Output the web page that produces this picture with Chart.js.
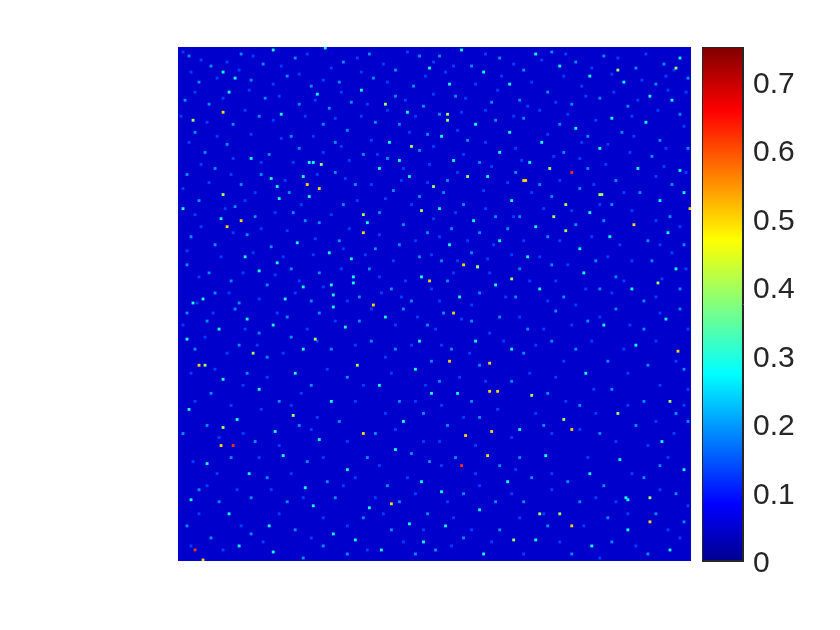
<!DOCTYPE html>
<html lang="en">
<head>
  <meta charset="UTF-8">
  <title>Noise map</title>
  <script src="https://cdn.jsdelivr.net/npm/chart.js"></script>
  <style>
    body { margin: 0; background: #fff; }
    canvas { position: absolute; }
    #mapChart { left: 178px; top: 47px; }
    #barChart { left: 701px; top: 14px; }
  </style>
</head>
<body>
  <canvas id="mapChart" width="513" height="514"></canvas>
  <canvas id="barChart" width="139" height="580"></canvas>

  <script>
    // the map has too many specks to read one by one, so these are the ones
    // picked out of the zoomed crops as [col, row] on the 256 x 256 image
    const gridSize = 256;
    const backgroundValue = 0.046;
    const colorbarRange = [0, 0.75];
    const tickValues = [0, 0.1, 0.2, 0.3, 0.4, 0.5, 0.6, 0.7];

    const valueOrange = 0.62;
    const specksOrange = [[196,62],[141,208],[8,250],[27,198]];

    const valueYellow = 0.5;
    const specksYellow = [[64,68],[22,32],[24,89],[92,92],[31,86],[70,70],[125,116],[172,66],[173,66],[227,88],[142,108],
      [255,80],[10,158],[12,255],[21,198],[97,128],[143,193],[156,191],[154,203],[155,171],[159,171],[155,157],[135,156],
      [137,132],[249,151],[235,236],[196,238],[196,190],[92,192],[106,227]];

    const valueGreen = 0.4;
    const specksGreen = [[92,83],[71,58],[7,36],[116,49],[22,73],[127,69],[121,81],[166,115],[210,73],[211,73],[193,78],
      [144,64],[185,60],[187,84],[193,91],[134,33],[134,36],[248,10],[219,11],[239,117],[149,109],[13,158],[37,152],[68,145],
      [89,158],[57,183],[22,189],[190,232],[180,232],[192,185],[219,182],[167,245],[245,176],[176,173],[235,224],[103,28]];

    const valueCyan = 0.29;
    const specksCyan = [[25,22],[22,12],[28,15],[73,0],[47,1],[69,23],[51,33],[36,55],[46,65],[62,64],[65,57],[67,57],[49,69],
      [100,60],[91,21],[114,32],[125,10],[105,47],[110,56],[115,64],[2,80],[21,85],[50,75],[65,74],[94,87],[59,97],[75,102],
      [33,104],[49,107],[86,105],[40,111],[62,119],[76,118],[87,114],[87,117],[121,114],[7,127],[53,125],[77,123],[12,125],
      [154,64],[149,109],[141,1],[135,18],[152,12],[165,18],[178,3],[190,9],[205,14],[222,17],[235,24],[250,5],[131,44],[148,38],
      [165,42],[181,47],[198,40],[216,35],[233,37],[246,26],[137,56],[160,52],[175,57],[210,50],[229,60],[250,61],[130,80],[147,86],
      [166,76],[178,89],[205,82],[240,76],[252,72],[135,98],[160,96],[174,104],[200,100],[215,94],[244,92],[140,124],[158,118],
      [180,120],[202,112],[226,120],[248,110],[34,135],[77,129],[4,145],[20,140],[47,138],[62,150],[83,139],[103,134],[120,146],
      [95,229],[63,219],[22,165],[40,170],[58,162],[76,176],[100,168],[118,160],[5,180],[29,185],[48,191],[70,195],[112,186],
      [126,172],[14,207],[35,212],[52,203],[84,210],[108,200],[121,216],[6,225],[25,232],[45,238],[67,228],[88,245],[115,237],
      [30,248],[47,251],[77,242],[101,250],[122,246],[223,224],[224,225],[212,138],[228,148],[243,135],[203,162],[166,150],
      [148,146],[139,172],[170,190],[183,203],[205,212],[220,205],[241,196],[252,210],[131,221],[150,230],[164,216],[178,245],
      [206,248],[224,240],[245,250],[133,238],[152,252]];

    const valueAzure = 0.19;
    const specksAzure = [[5,4],[16,9],[31,3],[42,8],[58,5],[82,7],[95,3],[108,11],[120,4],[10,17],[36,16],[54,14],[66,19],[80,17],
      [97,15],[117,19],[3,26],[15,28],[43,25],[60,28],[75,30],[86,27],[108,24],[122,29],[8,42],[27,38],[40,34],[56,44],[72,38],[84,41],
      [98,37],[110,38],[124,43],[13,52],[24,48],[45,53],[60,50],[78,47],[92,53],[104,55],[120,51],[4,63],[18,60],[31,68],[41,63],
      [55,72],[78,62],[88,68],[107,71],[120,74],[10,76],[28,79],[38,84],[57,82],[70,87],[82,78],[100,82],[112,88],[124,92],[6,94],
      [18,98],[34,93],[46,99],[63,86],[80,96],[98,100],[110,98],[120,104],[4,108],[15,112],[26,116],[44,118],[56,110],[70,112],[95,110],
      [106,120],[116,126],[18,122],[30,127],[66,126],[90,124],[130,4],[146,9],[160,5],[172,11],[186,2],[198,7],[212,4],[228,10],[242,8],
      [254,15],[138,24],[156,27],[170,26],[184,22],[196,28],[210,25],[224,29],[238,18],[250,33],[130,33],[144,46],[158,36],[172,35],
      [190,38],[204,44],[221,42],[240,46],[254,50],[134,66],[150,57],[168,62],[180,68],[192,52],[204,60],[218,66],[236,54],[246,68],
      [132,72],[142,78],[158,84],[170,84],[186,74],[200,70],[216,78],[230,72],[245,84],[136,90],[150,92],[164,90],[184,94],[198,88],
      [212,86],[234,96],[252,98],[131,106],[146,102],[170,110],[186,108],[208,106],[218,114],[236,106],[250,120],[134,116],[150,122],
      [168,124],[192,124],[210,120],[232,126],[4,132],[14,136],[28,130],[40,142],[54,134],[70,132],[90,136],[112,130],[124,138],[8,150],
      [30,148],[44,154],[56,144],[76,150],[96,146],[108,150],[126,156],[16,172],[34,162],[50,176],[66,168],[84,164],[110,176],[122,182],
      [2,192],[14,188],[38,196],[60,188],[80,186],[98,192],[116,202],[26,204],[44,214],[64,206],[74,216],[94,204],[104,218],[125,206],
      [10,220],[20,226],[36,224],[54,226],[78,224],[92,234],[110,226],[124,232],[4,238],[16,244],[36,242],[58,240],[72,248],[106,240],
      [118,252],[62,254],[84,252],[132,132],[146,136],[160,134],[174,140],[188,131],[204,136],[218,130],[232,140],[250,130],[136,150],
      [150,158],[172,152],[186,146],[198,150],[214,156],[234,158],[252,160],[130,166],[146,176],[166,166],[184,172],[200,178],[216,170],
      [232,176],[248,182],[134,188],[150,184],[170,204],[182,188],[210,192],[228,188],[240,208],[254,186],[138,204],[160,208],[176,214],
      [194,216],[212,218],[232,214],[248,222],[142,222],[158,226],[172,226],[200,226],[214,234],[238,232],[252,236],[128,250],[142,244],
      [160,240],[184,238],[196,252],[216,246],[234,252]];

    const valueBlue = 0.13;
    const specksBlue = [[2,2],[11,6],[24,7],[37,4],[51,9],[64,3],[76,10],[89,5],[102,8],[114,2],[127,7],[137,9],[153,3],[167,8],[181,6],
      [193,3],[206,10],[219,5],[233,3],[247,11],[6,12],[19,15],[30,11],[47,18],[60,13],[72,16],[91,12],[104,17],[123,14],[133,12],[148,18],
      [161,14],[176,17],[192,14],[201,19],[216,13],[231,16],[243,14],[253,22],[8,22],[22,25],[35,21],[50,24],[68,26],[81,22],[94,28],[113,26],
      [127,23],[143,25],[159,21],[174,29],[188,27],[203,24],[217,22],[229,26],[244,21],[1,34],[14,37],[33,31],[47,36],[63,34],[78,35],[91,34],
      [104,31],[118,34],[141,32],[153,31],[167,34],[180,31],[194,33],[208,36],[226,34],[239,31],[252,39],[5,47],[19,44],[36,43],[51,45],[67,44],
      [81,49],[96,46],[115,42],[127,49],[139,41],[153,47],[168,50],[184,43],[201,47],[214,48],[227,44],[243,50],[11,58],[27,55],[41,57],[57,57],
      [72,52],[85,56],[99,53],[112,60],[125,58],[142,53],[156,59],[171,56],[187,54],[200,55],[213,58],[225,52],[242,59],[2,70],[15,67],[26,63],
      [38,72],[53,66],[69,63],[83,65],[96,68],[111,66],[124,67],[139,62],[152,71],[164,67],[176,72],[190,66],[207,68],[222,72],[238,64],[253,62],
      [8,83],[23,80],[33,76],[48,82],[61,78],[76,83],[89,76],[103,75],[116,78],[127,85],[138,82],[153,80],[167,84],[182,80],[196,81],[210,78],
      [226,81],[238,86],[250,89],[11,89],[27,92],[41,90],[54,91],[68,95],[85,90],[100,93],[118,96],[130,94],[144,96],[157,98],[172,96],[190,96],
      [206,94],[220,98],[240,98],[4,101],[21,104],[37,102],[52,104],[67,103],[82,100],[93,103],[107,106],[126,103],[139,106],[154,105],[166,103],
      [180,104],[194,108],[214,104],[226,106],[246,102],[10,114],[32,112],[48,113],[60,116],[81,110],[100,114],[113,116],[126,120],[137,112],[155,112],
      [175,116],[188,116],[203,120],[222,116],[241,115],[253,110],[9,127],[25,122],[40,125],[58,122],[72,119],[84,126],[101,122],[111,124],[130,126],
      [146,128],[163,124],[184,126],[198,128],[216,122],[238,124],[2,138],[17,132],[33,140],[49,132],[64,140],[78,136],[96,130],[108,138],[119,134],
      [128,140],[141,135],[155,142],[170,134],[182,140],[196,138],[210,134],[225,138],[240,132],[254,140],[13,144],[24,152],[39,148],[52,152],[69,146],
      [88,148],[103,154],[116,148],[131,148],[145,152],[162,146],[178,148],[192,156],[206,146],[222,150],[238,146],[248,156],[6,162],[18,160],[32,168],
      [44,164],[61,172],[74,160],[92,168],[106,162],[123,168],[140,164],[153,166],[175,162],[188,164],[207,170],[224,162],[240,168],[254,170],[8,176],
      [26,178],[41,180],[56,178],[69,184],[88,176],[103,182],[118,176],[131,178],[142,184],[159,180],[178,182],[193,176],[208,182],[224,178],[238,186],
      [252,178],[20,194],[32,192],[50,198],[66,190],[84,196],[108,190],[122,196],[130,196],[148,198],[166,194],[186,192],[200,190],[218,196],[234,198],
      [247,192],[7,206],[19,212],[40,204],[56,212],[72,204],[88,214],[100,208],[114,214],[131,208],[148,212],[168,210],[186,212],[204,204],[226,212],[244,204],
      [14,218],[29,220],[46,220],[62,224],[82,218],[98,224],[118,222],[134,226],[150,218],[166,222],[186,220],[208,224],[218,226],[240,220],[254,228],
      [10,232],[31,238],[50,232],[72,234],[84,238],[102,232],[122,240],[137,234],[146,240],[170,234],[182,232],[202,238],[224,232],[244,240],[6,248],[22,250],
      [42,246],[66,244],[94,250],[112,246],[136,248],[156,246],[172,252],[190,246],[210,254],[228,248],[250,244]];

    // matlab jet, [position, r, g, b]
    const jetStops = [[0,0,0,143],[0.11,0,0,255],[0.365,0,255,255],[0.625,255,255,0],[0.875,255,0,0],[1,128,0,0]];

    function jetColor(value) {
      const t = (value - colorbarRange[0]) / (colorbarRange[1] - colorbarRange[0]);
      let i = 0;
      while (i < jetStops.length - 2 && t > jetStops[i + 1][0]) i++;
      const a = jetStops[i], b = jetStops[i + 1];
      const f = (t - a[0]) / (b[0] - a[0]);
      const c = [1, 2, 3].map(k => Math.round(a[k] + (b[k] - a[k]) * f));
      return `rgb(${c[0]}, ${c[1]}, ${c[2]})`;
    }

    function speckDataset(specks, value) {
      return {
        data: specks.map(s => ({ x: s[0] + 0.5, y: s[1] + 0.5 })),
        backgroundColor: jetColor(value),
        pointStyle: 'rect',
        pointRadius: 2,
        pointBorderWidth: 0,
        pointHoverRadius: 2
      };
    }

    const mapBackground = {
      id: 'mapBackground',
      beforeDatasetsDraw(chart) {
        const { ctx, chartArea: a } = chart;
        ctx.save();
        ctx.fillStyle = jetColor(backgroundValue);
        ctx.fillRect(a.left, a.top, a.right - a.left, a.bottom - a.top);
        ctx.restore();
      }
    };

    new Chart(document.getElementById('mapChart'), {
      type: 'scatter',
      data: {
        datasets: [
          speckDataset(specksOrange, valueOrange),
          speckDataset(specksYellow, valueYellow),
          speckDataset(specksGreen, valueGreen),
          speckDataset(specksCyan, valueCyan),
          speckDataset(specksAzure, valueAzure),
          speckDataset(specksBlue, valueBlue)
        ]
      },
      options: {
        responsive: false,
        animation: false,
        layout: { padding: 0, autoPadding: false },
        plugins: { legend: { display: false }, tooltip: { enabled: false } },
        scales: {
          x: { display: false, min: 0, max: gridSize },
          y: { display: false, min: 0, max: gridSize, reverse: true }
        }
      },
      plugins: [mapBackground]
    });

    new Chart(document.getElementById('barChart'), {
      type: 'bar',
      data: {
        labels: ['colorbar'],
        datasets: [{
          data: [colorbarRange],
          barPercentage: 1,
          categoryPercentage: 1,
          backgroundColor(context) {
            const a = context.chart.chartArea;
            if (!a) return jetColor(0);
            const g = context.chart.ctx.createLinearGradient(0, a.bottom, 0, a.top);
            jetStops.forEach(s => g.addColorStop(s[0], `rgb(${s[1]}, ${s[2]}, ${s[3]})`));
            return g;
          }
        }]
      },
      options: {
        responsive: false,
        animation: false,
        layout: { padding: { left: 1, top: 20, bottom: 24 }, autoPadding: false },
        plugins: { legend: { display: false }, tooltip: { enabled: false } },
        scales: {
          x: {
            grid: { display: false },
            border: { display: true, color: '#262626', width: 1 },
            ticks: { display: false }
          },
          y: {
            position: 'right',
            min: colorbarRange[0],
            max: colorbarRange[1],
            afterBuildTicks(scale) { scale.ticks = tickValues.map(v => ({ value: v })); },
            afterFit(scale) { scale.width = 97; },
            grid: { drawOnChartArea: false, tickLength: -5, tickColor: '#262626', tickWidth: 1 },
            border: { display: true, color: '#262626', width: 1 },
            ticks: {
              padding: 15,
              labelOffset: 3,
              color: '#262626',
              font: { family: '"Liberation Sans"', size: 30 },
              callback: v => v === 0 ? '0' : v.toFixed(1)
            }
          }
        }
      },
      plugins: [{
        id: 'barFrame',
        afterDraw(chart) {
          const { ctx, chartArea: a } = chart;
          ctx.save();
          ctx.strokeStyle = '#262626';
          ctx.strokeRect(a.left + 0.5, a.top + 0.5, a.right - a.left - 1, a.bottom - a.top - 1);
          ctx.restore();
        }
      }]
    });
  </script>
</body>
</html>
